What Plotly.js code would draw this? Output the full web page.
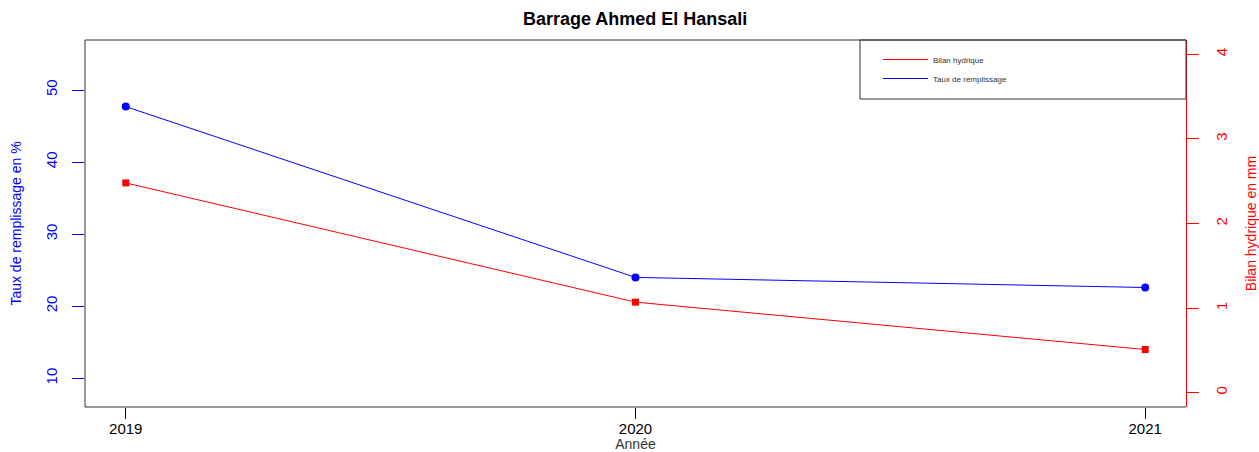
<!DOCTYPE html>
<html>
<head>
<meta charset="utf-8">
<script src="https://cdn.plot.ly/plotly-3.0.1.min.js"></script>
<style>
  html, body { margin: 0; padding: 0; background: #ffffff; }
  #chart { width: 1259px; height: 452px; }
</style>
</head>
<body>
<div id="chart"></div>
<script>
// ---- Data ----
const years = [2019, 2020, 2021];
const tauxRemplissage = [47.7, 24.0, 22.6];   // % (left axis)
const bilanHydrique = [2.48, 1.07, 0.51];     // mm (right axis)
const leftTicks = [10, 20, 30, 40, 50];
const rightTicks = [0, 1, 2, 3, 4];
const xTicks = [2019, 2020, 2021];

const FONT = 'Liberation Sans, Arial, sans-serif';
const BLUE = '#0000ff';
const RED = '#ff0000';

const traces = [
  {
    x: years, y: bilanHydrique, yaxis: 'y2', name: 'Bilan hydrique',
    type: 'scatter', mode: 'lines',
    line: { color: RED, width: 1 }, showlegend: true, hoverinfo: 'skip'
  },
  {
    x: years, y: tauxRemplissage, yaxis: 'y', name: 'Taux de remplissage',
    type: 'scatter', mode: 'lines',
    line: { color: BLUE, width: 1 }, showlegend: true, hoverinfo: 'skip'
  },
  {
    x: years, y: bilanHydrique, yaxis: 'y2', name: 'Bilan hydrique',
    type: 'scatter', mode: 'markers',
    marker: { color: RED, symbol: 'square', size: 7 }, showlegend: false
  },
  {
    x: years, y: tauxRemplissage, yaxis: 'y', name: 'Taux de remplissage',
    type: 'scatter', mode: 'markers',
    marker: { color: BLUE, symbol: 'circle', size: 8 }, showlegend: false
  }
];

const layout = {
  width: 1259, height: 452,
  paper_bgcolor: '#ffffff', plot_bgcolor: '#ffffff',
  margin: { l: 85, r: 73, t: 40, b: 45, pad: 0 },
  font: { family: FONT, color: '#000000' },
  title: {
    text: 'Barrage Ahmed El Hansali',
    font: { family: FONT, size: 18, weight: 'bold', color: '#000000' },
    x: 0.5045, xref: 'container', xanchor: 'center',
    y: 1 - 19 / 452, yref: 'container', yanchor: 'middle'
  },
  xaxis: {
    range: [2018.92, 2021.08],
    tickmode: 'array', tickvals: xTicks, ticktext: xTicks.map(String),
    ticks: 'outside', ticklen: 11, tickwidth: 1, tickcolor: '#000000',
    ticklabelstandoff: -3,
    tickfont: { family: FONT, size: 15, color: '#000000' },
    showgrid: false, zeroline: false, showline: false,
    automargin: false,
    title: { text: 'Année', font: { family: FONT, size: 14, color: '#333333' }, standoff: 15 }
  },
  yaxis: {
    range: [6.02, 56.94],
    tickmode: 'array', tickvals: leftTicks, ticktext: leftTicks.map(String),
    ticks: 'outside', ticklen: 12, tickwidth: 1, tickcolor: BLUE,
    tickangle: -90, ticklabelstandoff: 9,
    tickfont: { family: FONT, size: 15, color: BLUE },
    showgrid: false, zeroline: false, showline: false,
    automargin: false,
    title: { text: 'Taux de remplissage en %', font: { family: FONT, size: 14, color: BLUE }, standoff: 18 }
  },
  yaxis2: {
    overlaying: 'y', side: 'right', anchor: 'x',
    range: [-0.17, 4.17],
    tickmode: 'array', tickvals: rightTicks, ticktext: rightTicks.map(String),
    ticks: 'outside', ticklen: 12, tickwidth: 1, tickcolor: RED,
    tickangle: -90, ticklabelstandoff: 10,
    tickfont: { family: FONT, size: 15, color: RED },
    showgrid: false, zeroline: false,
    showline: true, linecolor: RED, linewidth: 1,
    automargin: false,
    title: { text: 'Bilan hydrique en mm', font: { family: FONT, size: 14, color: RED }, standoff: 23 }
  },
  shapes: [
    { type: 'path', xref: 'paper', yref: 'paper', path: 'M 1,0 L 0,0 L 0,1 L 1,1',
      line: { color: '#333333', width: 1 }, layer: 'above' },
    { type: 'rect', xref: 'paper', yref: 'paper',
      x0: (860 - 85) / 1101, x1: 1, y0: (407 - 99) / 367, y1: 1,
      line: { color: '#333333', width: 1 }, fillcolor: 'rgba(0,0,0,0)', layer: 'above' }
  ],
  legend: {
    x: (878 - 85) / 1101, xanchor: 'left',
    y: (407 - 45) / 367, yanchor: 'top',
    bgcolor: 'rgba(0,0,0,0)', borderwidth: 0,
    font: { family: FONT, size: 8, color: '#333333' },
    itemwidth: 45, traceorder: 'normal'
  },
  showlegend: true
};

Plotly.newPlot('chart', traces, layout, { staticPlot: true, displayModeBar: false });
</script>
</body>
</html>
